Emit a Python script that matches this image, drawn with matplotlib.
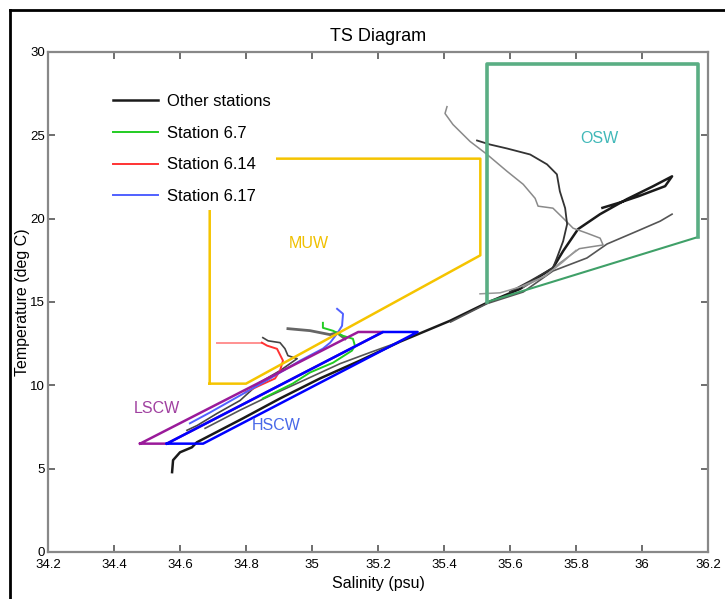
"""
TS diagram: station profiles with water mass boxes (OSW, MUW, LSCW, HSCW)
"""
import matplotlib
matplotlib.use("Agg")
import matplotlib.pyplot as plt
from matplotlib.lines import Line2D

plt.rcParams['font.family'] = ['Liberation Sans', 'DejaVu Sans']

# ---- station profiles (salinity psu, temperature deg C) ----
trunk_S = [34.576, 34.579, 34.600, 34.636, 34.651, 34.791, 34.903, 35.024, 35.145,
           35.267, 35.418, 35.530, 35.630, 35.730, 35.761, 35.806, 35.873, 35.954,
           36.033, 36.091, 36.070, 35.990, 35.930, 35.880]
trunk_T = [4.79, 5.51, 5.98, 6.28, 6.58, 8.02, 9.21, 10.41, 11.48,
           12.62, 13.87, 14.95, 15.78, 17.04, 18.06, 19.37, 20.27, 21.17,
           21.94, 22.54, 21.95, 21.35, 20.95, 20.65]

lower_S = [35.420, 35.530, 35.640, 35.730, 35.833, 35.894, 35.985, 36.055, 36.091]
lower_T = [13.80, 14.90, 15.60, 16.86, 17.64, 18.48, 19.25, 19.85, 20.27]

profA_S = [35.409, 35.403, 35.427, 35.479, 35.530, 35.591, 35.640, 35.676, 35.685,
           35.730, 35.761, 35.791, 35.833, 35.873, 35.882, 35.842, 35.810, 35.751,
           35.706, 35.640]
profA_T = [26.72, 26.31, 25.65, 24.63, 23.86, 22.84, 22.06, 21.22, 20.75,
           20.63, 20.03, 19.43, 19.13, 18.83, 18.42, 18.30, 18.20, 17.34,
           16.56, 15.90]

profB_S = [35.500, 35.539, 35.591, 35.661, 35.712, 35.742, 35.751, 35.767, 35.773,
           35.761, 35.742, 35.730, 35.661, 35.600]
profB_T = [24.69, 24.45, 24.21, 23.85, 23.26, 22.66, 21.64, 20.63, 19.67,
           18.65, 17.64, 17.04, 16.26, 15.61]

profC_S = [35.509, 35.570, 35.630, 35.706, 35.760, 35.800]
profC_T = [15.49, 15.55, 15.90, 16.56, 17.40, 18.10]

profE_S = [34.927, 34.994, 35.055, 35.076, 35.100]
profE_T = [13.40, 13.28, 13.04, 13.16, 12.79]

profF_S = [34.851, 34.867, 34.903, 34.918, 34.927, 34.955, 34.903, 34.842, 34.782,
           34.712, 34.652, 34.621]
profF_T = [12.86, 12.67, 12.56, 12.20, 11.78, 11.60, 10.88, 10.17, 9.09,
           8.31, 7.59, 7.30]

profG_S = [34.676, 34.782, 34.873, 34.973, 35.085, 35.180, 35.267]
profG_T = [7.42, 8.51, 9.38, 10.28, 11.30, 12.00, 12.62]

st67_S = [35.033, 35.033, 35.064, 35.094, 35.124, 35.130, 35.121, 35.064, 34.994,
          34.942, 34.851]
st67_T = [13.75, 13.45, 13.27, 12.97, 12.79, 12.38, 12.08, 11.36, 10.77,
          10.11, 9.21]

st614_S = [34.712, 34.848, 34.864, 34.894, 34.912, 34.903, 34.888, 34.848, 34.797]
st614_T = [12.56, 12.56, 12.38, 12.19, 11.48, 10.88, 10.41, 10.05, 9.57]

st617_S = [35.076, 35.094, 35.091, 35.076, 35.055, 35.033, 34.964, 34.873, 34.782,
           34.691, 34.630]
st617_T = [14.59, 14.29, 13.57, 13.10, 12.56, 12.20, 11.48, 10.41, 9.39,
           8.37, 7.72]

# ---- water mass boxes ----
osw_S = [36.17, 35.53, 35.53, 36.17, 36.17]
osw_T = [18.9, 15.0, 29.3, 29.3, 18.9]
muw_S = [34.69, 34.80, 35.51, 35.51, 34.69, 34.69]
muw_T = [10.1, 10.1, 17.8, 23.6, 23.6, 10.1]
lscw_S = [34.479, 35.14, 35.215, 34.56, 34.479]
lscw_T = [6.5, 13.2, 13.2, 6.5, 6.5]
hscw_S = [34.56, 35.215, 35.32, 34.67, 34.56]
hscw_T = [6.5, 13.2, 13.2, 6.5, 6.5]

mass_names = ["OSW", "MUW", "LSCW", "HSCW"]
mass_label_S = [35.87, 34.99, 34.53, 34.89]
mass_label_T = [24.8, 18.5, 8.6, 7.6]

xticks = [34.2, 34.4, 34.6, 34.8, 35, 35.2, 35.4, 35.6, 35.8, 36, 36.2]
xticklabels = ["34.2", "34.4", "34.6", "34.8", "35", "35.2", "35.4", "35.6", "35.8", "36", "36.2"]
yticks = [0, 5, 10, 15, 20, 25, 30]

fig = plt.figure(figsize=(7.25, 5.99), dpi=100)
ax = fig.add_axes([0.0662, 0.0785, 0.9104, 0.8347])

# other stations
ax.plot(trunk_S, trunk_T, color="#1a1a1a", lw=1.8, label="Other stations")
ax.plot(lower_S, lower_T, color="#555555", lw=1.2)
ax.plot(profA_S, profA_T, color="#8a8a8a", lw=1.1)
ax.plot(profB_S, profB_T, color="#333333", lw=1.3)
ax.plot(profC_S, profC_T, color="#999999", lw=1.1)
ax.plot(profE_S, profE_T, color="#666666", lw=2.0)
ax.plot(profF_S, profF_T, color="#444444", lw=1.2)
ax.plot(profG_S, profG_T, color="#555555", lw=1.2)

# highlighted stations
ax.plot(st67_S, st67_T, color="#22cc22", lw=1.4, label="Station 6.7")
ax.plot(st614_S[:2], st614_T[:2], color="#ff9090", lw=1.4)
ax.plot(st614_S[1:], st614_T[1:], color="#ff3333", lw=1.4)
ax.plot([], [], color="#ff3333", lw=1.4, label="Station 6.14")
ax.plot(st617_S, st617_T, color="#5060ff", lw=1.4, label="Station 6.17")

# water mass boxes
ax.plot(osw_S[:2], osw_T[:2], color="#3fa068", lw=1.5)
ax.plot(osw_S[1:], osw_T[1:], color="#5aae84", lw=2.6)
ax.plot(muw_S, muw_T, color="#f5c400", lw=1.8)
ax.plot(lscw_S, lscw_T, color="#9a1a9a", lw=1.8)
ax.plot(hscw_S, hscw_T, color="#0000ff", lw=1.8)

mass_colors = ["#40b8b8", "#f0c000", "#a040a0", "#4868e8"]
for name, s, t, c in zip(mass_names, mass_label_S, mass_label_T, mass_colors):
    ax.text(s, t, name, color=c, fontsize=11.5, ha="center", va="center")

leg = ax.legend(loc="upper left", bbox_to_anchor=(0.0776, 0.944), frameon=True,
                fontsize=12, handlelength=2.7, handletextpad=0.5,
                labelspacing=1.0, borderpad=0.35)
leg.get_frame().set_edgecolor("none")
leg.get_frame().set_facecolor("white")
leg.get_frame().set_alpha(1)

ax.set_xlim(34.2, 36.2)
ax.set_ylim(0, 30)
ax.set_xticks(xticks)
ax.set_xticklabels(xticklabels)
ax.set_yticks(yticks)
ax.tick_params(direction="in", top=True, right=True, length=5, width=1.2,
               color="#555555", labelsize=9.5, pad=2)
ax.tick_params(axis="x", pad=5)
for sp in ax.spines.values():
    sp.set_color("#888888")
    sp.set_linewidth(1.6)

ax.set_title("TS Diagram", fontsize=13, pad=8)
ax.set_xlabel("Salinity (psu)", fontsize=11.5, labelpad=4)
ax.set_ylabel("Temperature (deg C)", fontsize=11.5)
ax.yaxis.set_label_coords(-0.027, 0.5)

# outer frame, left and top edges only visible
fig.add_artist(Line2D([0.0138, 0.0138], [0.0, 0.9833], color="black", lw=2))
fig.add_artist(Line2D([0.0138, 1.0], [0.9833, 0.9833], color="black", lw=2))

fig.savefig("out.png", dpi=100)
